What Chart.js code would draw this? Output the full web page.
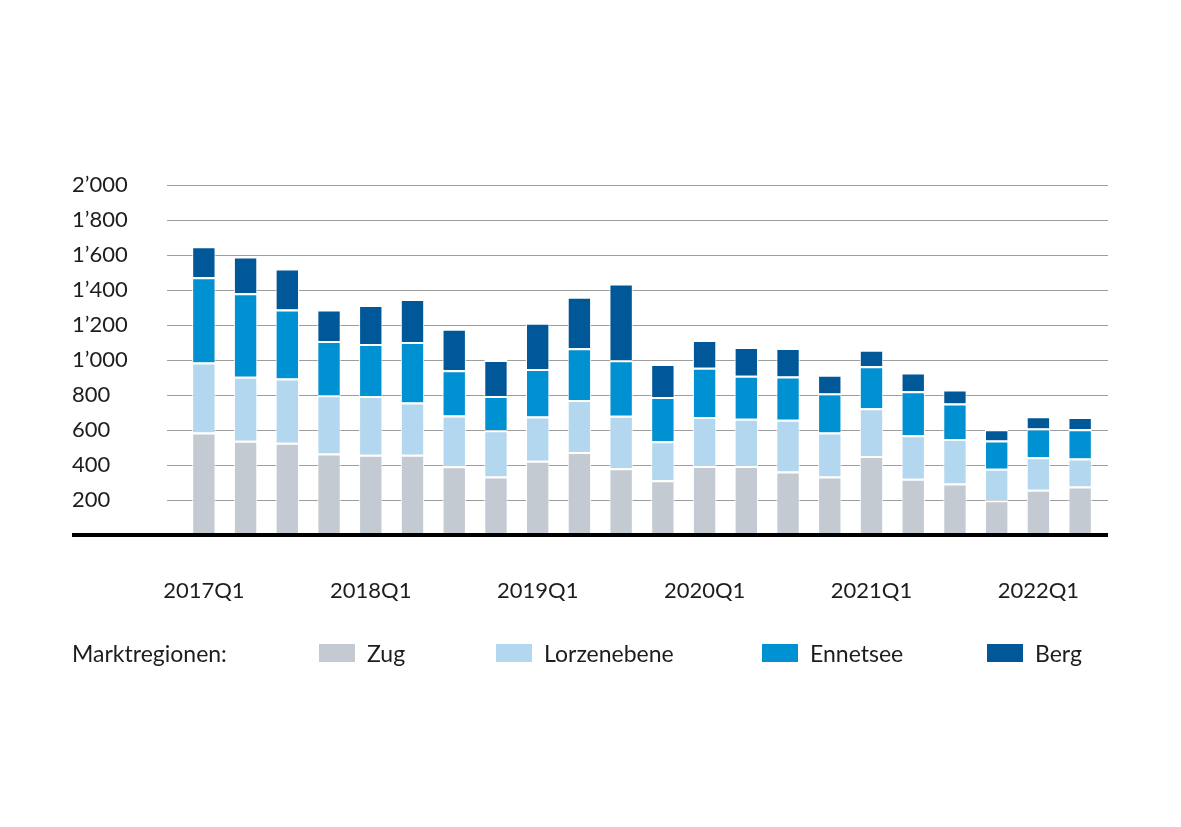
<!DOCTYPE html>
<html>
<head>
<meta charset="utf-8">
<script src="https://cdn.jsdelivr.net/npm/chart.js@4"></script>
<style>
  html, body { margin: 0; padding: 0; background: #fff; }
  #wrap { position: relative; width: 1181px; height: 827px; }
  #legend { position: absolute; left: 0; top: 639px; width: 1181px; height: 30px;
    font-family: Lato, 'DejaVu Sans', sans-serif; font-weight: 400; font-size: 23px; color: #1d1d1b; }
  #legend .item { position: absolute; top: 0; display: flex; align-items: center; height: 28px; }
  #legend .box { width: 36px; height: 18px; margin-right: 12px; }
</style>
</head>
<body>
<div id="wrap">
  <canvas id="chart" width="1181" height="827"></canvas>
  <div id="legend"></div>
</div>
<script>
const quarters = ['2017Q1', '2017Q2', '2017Q3', '2017Q4', '2018Q1', '2018Q2', '2018Q3', '2018Q4',
  '2019Q1', '2019Q2', '2019Q3', '2019Q4', '2020Q1', '2020Q2', '2020Q3', '2020Q4',
  '2021Q1', '2021Q2', '2021Q3', '2021Q4', '2022Q1', '2022Q2'];

const zug = [586, 538, 527, 466, 458, 458, 393, 334, 425, 475, 382, 313, 395, 395, 363, 334, 452, 322, 294, 198, 259, 277];
const lorzenebene = [400, 366, 368, 333, 336, 299, 290, 265, 252, 296, 299, 223, 280, 269, 295, 252, 273, 248, 254, 180, 186, 160];
const ennetsee = [487, 477, 393, 310, 297, 346, 258, 195, 271, 296, 317, 252, 281, 246, 248, 223, 240, 252, 204, 162, 164, 168];
const berg = [177, 210, 235, 179, 224, 246, 238, 206, 265, 295, 439, 189, 158, 164, 162, 107, 94, 107, 80, 65, 70, 69];

const yTicks = [200, 400, 600, 800, 1000, 1200, 1400, 1600, 1800, 2000];

const textColor = '#1d1d1b';
const fontFamily = "Lato, 'DejaVu Sans', sans-serif";

const fmt = (v) => {
  if (v >= 1000) {
    return Math.floor(v / 1000) + '\u2019' + String(v % 1000).padStart(3, '0');
  }
  return String(v);
};

const series = [
  { label: 'Zug', data: zug, color: '#c4cad1' },
  { label: 'Lorzenebene', data: lorzenebene, color: '#b3d7ee' },
  { label: 'Ennetsee', data: ennetsee, color: '#0091d3' },
  { label: 'Berg', data: berg, color: '#005899' }
];

// gridlines a bit wider than the bars, thick base line from the labels on
const gridPlugin = {
  id: 'grid',
  beforeDatasetsDraw(chart) {
    const { ctx, chartArea, scales } = chart;
    ctx.save();
    ctx.strokeStyle = '#9d9d9d';
    ctx.lineWidth = 1.2;
    yTicks.forEach(v => {
      const y = Math.round(scales.y.getPixelForValue(v)) + 0.5;
      ctx.beginPath();
      ctx.moveTo(chartArea.left - 16, y);
      ctx.lineTo(chartArea.right + 7, y);
      ctx.stroke();
    });
    ctx.restore();
  },
  afterDatasetsDraw(chart) {
    const { ctx, chartArea, scales } = chart;
    const y = scales.y.getPixelForValue(0);
    ctx.save();
    ctx.strokeStyle = '#000';
    ctx.lineWidth = 4;
    ctx.beginPath();
    ctx.moveTo(72, y);
    ctx.lineTo(chartArea.right + 7, y);
    ctx.stroke();
    ctx.restore();
  }
};

const chart = new Chart(document.getElementById('chart'), {
  type: 'bar',
  data: {
    labels: quarters,
    datasets: series.map(s => ({
      label: s.label,
      data: s.data,
      backgroundColor: s.color,
      borderColor: '#ffffff',
      borderWidth: { top: 2, left: 1, right: 1, bottom: 0 },
      borderSkipped: false,
      categoryPercentage: 1,
      barPercentage: 0.56
    }))
  },
  options: {
    responsive: false,
    animation: false,
    layout: { padding: { top: 185, left: 72, right: 80, bottom: 212 } },
    plugins: {
      legend: { display: false },
      tooltip: { enabled: false }
    },
    scales: {
      x: {
        stacked: true,
        grid: { display: false },
        border: { display: false },
        afterFit: (scale) => { scale.height = 80; },
        ticks: {
          autoSkip: false,
          maxRotation: 0,
          padding: 35,
          color: textColor,
          font: { family: fontFamily, size: 22, weight: 400 },
          callback: (v, i) => (i % 4 === 0 ? quarters[i] : '')
        }
      },
      y: {
        stacked: true,
        min: 0,
        max: 2000,
        grid: { display: false, drawTicks: false },
        border: { display: false },
        afterFit: (scale) => { scale.width = 111; },
        ticks: {
          stepSize: 200,
          crossAlign: 'far',
          padding: 0,
          color: textColor,
          font: { family: fontFamily, size: 22, weight: 400 },
          callback: (v) => (v === 0 ? '' : fmt(v))
        }
      }
    }
  },
  plugins: [gridPlugin]
});

// legend built from the datasets
const legend = document.getElementById('legend');
const legendX = [319, 496, 762, 987];
const title = document.createElement('div');
title.className = 'item';
title.style.left = '72px';
title.textContent = 'Marktregionen:';
legend.appendChild(title);
series.forEach((s, i) => {
  const item = document.createElement('div');
  item.className = 'item';
  item.style.left = legendX[i] + 'px';
  const box = document.createElement('span');
  box.className = 'box';
  box.style.background = s.color;
  const txt = document.createElement('span');
  txt.textContent = s.label;
  item.appendChild(box);
  item.appendChild(txt);
  legend.appendChild(item);
});
</script>
</body>
</html>
